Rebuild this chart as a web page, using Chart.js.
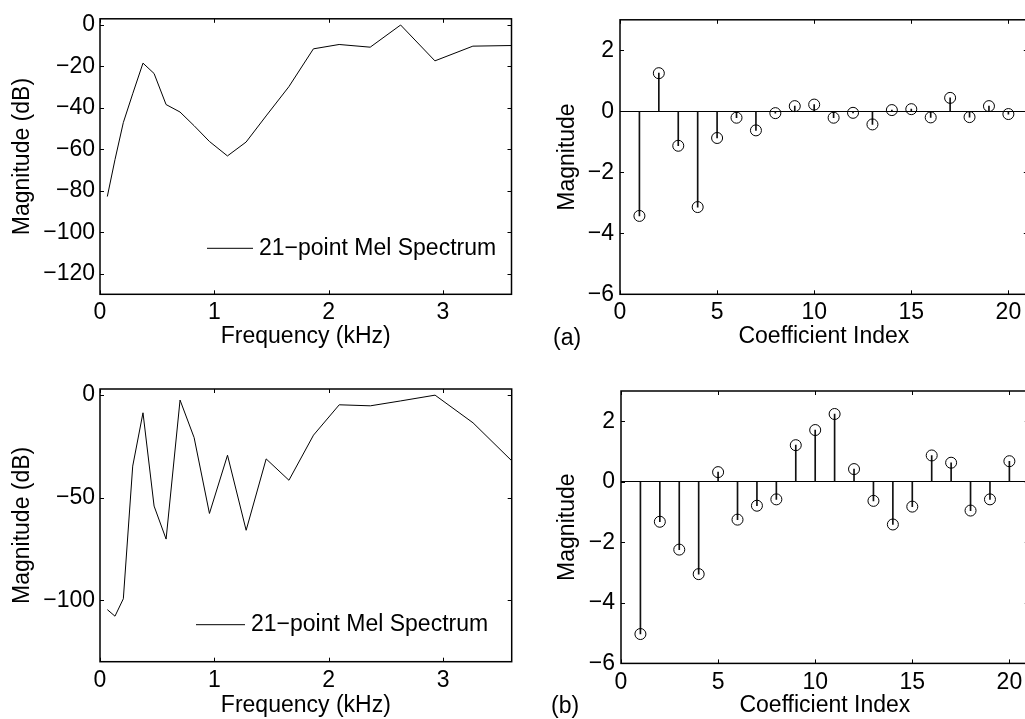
<!DOCTYPE html>
<html>
<head>
<meta charset="utf-8">
<script src="https://cdn.jsdelivr.net/npm/chart.js"></script>
<style>
  body { margin: 0; width: 1025px; height: 719px; overflow: hidden; background: #fff; position: relative;
         font-family: "Liberation Sans", Arial, sans-serif; }
  canvas { position: absolute; }
  .tag { position: absolute; font-size: 23px; line-height: 23px; color: #000; }
</style>
</head>
<body>
<canvas id="melA" width="520" height="350" style="left:0;top:0"></canvas>
<canvas id="cepA" width="540" height="350" style="left:520px;top:0"></canvas>
<canvas id="melB" width="520" height="349" style="left:0;top:370px"></canvas>
<canvas id="cepB" width="540" height="349" style="left:520px;top:370px"></canvas>
<div class="tag" style="left:553px;top:326px">(a)</div>
<div class="tag" style="left:551px;top:694px">(b)</div>

<script>
// mel filter centre frequencies (kHz)
const freqKHz = [0.064, 0.131, 0.204, 0.286, 0.376, 0.473, 0.578, 0.70, 0.823, 0.957, 1.115,
                 1.278, 1.453, 1.652, 1.867, 2.092, 2.364, 2.63, 2.93, 3.262, 3.60];
// 21-point mel spectra (dB)
const melDbA = [-82.8, -65, -47.1, -33.2, -18.4, -23.4, -38.4, -42.0, -48.6, -56.2, -63.2,
                -56.5, -43.9, -29.8, -11.5, -9.4, -10.7, 0, -17.3, -10.2, -9.9];
const melDbB = [-104.6, -107.8, -99.3, -34.6, -8.6, -54.1, -70.2, -2.4, -20.7, -57.7, -29.3,
                -65.9, -31.1, -41.5, -19.5, -4.7, -5.2, -2.8, 0, -13.5, -32.0];

// cepstral coefficients
const coefIndex = [1, 2, 3, 4, 5, 6, 7, 8, 9, 10, 11, 12, 13, 14, 15, 16, 17, 18, 19, 20];
const cepA = [-3.43, 1.25, -1.13, -3.14, -0.875, -0.21, -0.625, -0.06, 0.17, 0.22,
              -0.21, -0.05, -0.43, 0.04, 0.07, -0.2, 0.44, -0.19, 0.17, -0.09];
const cepB = [-5.03, -1.32, -2.24, -3.05, 0.32, -1.25, -0.79, -0.58, 1.21, 1.71,
              2.24, 0.42, -0.63, -1.41, -0.82, 0.87, 0.63, -0.95, -0.58, 0.68];

// tick values
const freqTicks = [0, 1, 2, 3];
const dbTicksA = [-120, -100, -80, -60, -40, -20, 0];
const dbTicksB = [-100, -50, 0];
const coefTicks = [0, 5, 10, 15, 20];
const magTicks = [-6, -4, -2, 0, 2];

const legendText = '21\u2212point Mel Spectrum';

Chart.defaults.font.family = '"Liberation Sans", Arial, sans-serif';
Chart.defaults.font.size = 23;
Chart.defaults.color = '#000';

const minus = v => String(v).replace('-', '\u2212');

// matlab style box with inward ticks
const boxPlugin = {
  id: 'matBox',
  afterDraw(chart) {
    const { ctx, chartArea: a, scales: { x, y } } = chart;
    ctx.save();
    ctx.strokeStyle = '#000';
    ctx.lineWidth = 1;
    ctx.beginPath();
    x.ticks.forEach(t => {
      const px = Math.round(x.getPixelForValue(t.value)) + 0.5;
      ctx.moveTo(px, a.bottom); ctx.lineTo(px, a.bottom - 4);
      ctx.moveTo(px, a.top); ctx.lineTo(px, a.top + 4);
    });
    y.ticks.forEach(t => {
      const py = Math.round(y.getPixelForValue(t.value)) + 0.5;
      ctx.moveTo(a.left, py); ctx.lineTo(a.left + 4, py);
      ctx.moveTo(a.right, py); ctx.lineTo(a.right - 4, py);
    });
    ctx.stroke();
    ctx.lineWidth = 1.5;
    ctx.strokeRect(a.left, a.top, a.right - a.left, a.bottom - a.top);
    ctx.restore();
  }
};

// legend drawn inside the axes, no frame
const melLegend = {
  id: 'melLegend',
  afterDraw(chart, args, opts) {
    if (!opts.show) return;
    const { ctx, chartArea: a } = chart;
    const ds = chart.data.datasets[0];
    const y = a.bottom - opts.dy;
    ctx.save();
    ctx.strokeStyle = ds.borderColor;
    ctx.lineWidth = 1;
    ctx.beginPath();
    ctx.moveTo(a.left + opts.x1, y);
    ctx.lineTo(a.left + opts.x2, y);
    ctx.stroke();
    ctx.fillStyle = '#000';
    ctx.font = '23px "Liberation Sans", Arial, sans-serif';
    ctx.textBaseline = 'middle';
    ctx.fillText(ds.label, a.left + opts.x2 + 6, y);
    ctx.restore();
  }
};

function melChart(id, values, yTicks, pad, xH, leg) {
  return new Chart(document.getElementById(id), {
    type: 'line',
    data: {
      datasets: [{
        label: legendText,
        data: freqKHz.map((f, i) => ({ x: f, y: values[i] })),
        borderColor: '#000',
        borderWidth: 1,
        pointRadius: 0,
        tension: 0,
        fill: false
      }]
    },
    options: {
      responsive: false,
      animation: false,
      layout: { padding: pad },
      plugins: { legend: { display: false }, tooltip: { enabled: false }, melLegend: leg },
      scales: {
        x: {
          type: 'linear', min: 0, max: 3.6,
          grid: { display: false, drawTicks: false }, border: { display: false },
          afterBuildTicks: s => { s.ticks = freqTicks.map(v => ({ value: v })); },
          afterFit: s => { s.height = xH; },
          ticks: { padding: 5, maxRotation: 0, callback: minus },
          title: { display: true, text: 'Frequency (kHz)', padding: { top: 0, bottom: 0 } }
        },
        y: {
          min: -130, max: 3,
          grid: { display: false, drawTicks: false }, border: { display: false },
          afterBuildTicks: s => { s.ticks = yTicks.map(v => ({ value: v })); },
          afterFit: s => { s.width = 100; },
          ticks: { padding: 5, callback: minus },
          title: { display: true, text: 'Magnitude (dB)', padding: { top: 9, bottom: 0 } }
        }
      }
    },
    plugins: [boxPlugin, melLegend]
  });
}

function stemChart(id, values, pad, xH, yW) {
  const pts = coefIndex.map((c, i) => ({ x: c, y: values[i] }));
  return new Chart(document.getElementById(id), {
    type: 'bar',
    data: {
      datasets: [
        {
          type: 'scatter',
          data: pts,
          borderColor: '#000',
          backgroundColor: 'rgba(0,0,0,0)',
          borderWidth: 1,
          pointRadius: 5.5,
          order: 1
        },
        {
          type: 'bar',
          data: pts,
          backgroundColor: '#111',
          barThickness: 1,
          grouped: false,
          order: 2
        }
      ]
    },
    options: {
      responsive: false,
      animation: false,
      layout: { padding: pad },
      plugins: { legend: { display: false }, tooltip: { enabled: false } },
      scales: {
        x: {
          type: 'linear', min: 0, max: 21, offset: false,
          grid: { display: false, drawTicks: false }, border: { display: false },
          afterBuildTicks: s => { s.ticks = coefTicks.map(v => ({ value: v })); },
          afterFit: s => { s.height = xH; },
          ticks: { padding: 5, maxRotation: 0, callback: minus },
          title: { display: true, text: 'Coefficient Index', padding: { top: 0, bottom: 0 } }
        },
        y: {
          min: -6, max: 3,
          grid: {
            drawTicks: false,
            color: c => (c.tick && c.tick.value === 0 ? '#000' : 'rgba(0,0,0,0)'),
            lineWidth: 1
          },
          border: { display: false },
          afterBuildTicks: s => { s.ticks = magTicks.map(v => ({ value: v })); },
          afterFit: s => { s.width = yW; },
          ticks: { padding: 6, callback: minus },
          title: { display: true, text: 'Magnitude', padding: { top: 34, bottom: 0 } }
        }
      }
    },
    plugins: [boxPlugin]
  });
}

melChart('melA', melDbA, dbTicksA, { left: 0, top: 12, right: 8.5, bottom: 0 }, 55.7,
         { show: true, x1: 107, x2: 153, dy: 46 });
melChart('melB', melDbB, dbTicksB, { left: 0, top: 19, right: 8.3, bottom: 0 }, 57.3,
         { show: true, x1: 96, x2: 145, dy: 37 });
stemChart('cepA', cepA, { left: 0, top: 6.3, right: 32.2, bottom: 0 }, 55.7, 100);
stemChart('cepB', cepB, { left: 0, top: 21, right: 31.2, bottom: 0 }, 55.6, 101);
</script>
</body>
</html>
